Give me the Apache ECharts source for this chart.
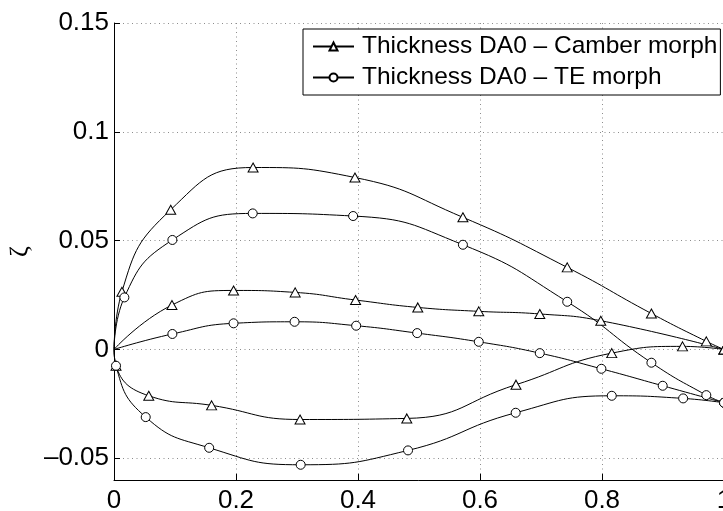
<!DOCTYPE html>
<html>
<head>
<meta charset="utf-8">
<script src="https://cdn.jsdelivr.net/npm/echarts@6/dist/echarts.min.js"></script>
<style>
  html, body { margin: 0; padding: 0; background: #fff; }
  #chart { width: 723px; height: 511px; }
</style>
</head>
<body>
<div id="chart"></div>
<script>
// values
const camberName = 'Thickness DA0 \u2013 Camber morph'
const teName = 'Thickness DA0 \u2013 TE morph'

const camberUpperX = [0, 0.013, 0.093, 0.228, 0.395, 0.572, 0.743, 0.881, 0.971, 1.0]
const camberUpperY = [0, 0.0265, 0.0642, 0.0836, 0.079, 0.0607, 0.0377, 0.0165, 0.0037, 0]
const camberMidX = [0, 0.095, 0.196, 0.297, 0.396, 0.498, 0.598, 0.698, 0.798, 1.0]
const camberMidY = [0, 0.0204, 0.0271, 0.0262, 0.0227, 0.0193, 0.0175, 0.0163, 0.0132, 0]
const camberLowerX = [0, 0.0033, 0.057, 0.16, 0.305, 0.48, 0.659, 0.816, 0.932, 1.0]
const camberLowerY = [0, -0.0075, -0.0213, -0.0257, -0.0322, -0.0317, -0.0162, -0.0017, 0.0014, 0]

const teUpperX = [0, 0.017, 0.0957, 0.2274, 0.392, 0.572, 0.743, 0.881, 0.971, 1.0]
const teUpperY = [0, 0.0239, 0.0503, 0.0625, 0.0613, 0.0481, 0.0219, -0.0061, -0.021, -0.0245]
const teMidX = [0, 0.0957, 0.196, 0.296, 0.397, 0.497, 0.598, 0.698, 0.799, 0.8995, 1.0]
const teMidY = [0, 0.0071, 0.012, 0.0127, 0.0109, 0.0075, 0.0035, -0.0017, -0.0089, -0.0167, -0.0245]
const teLowerX = [0, 0.0033, 0.052, 0.156, 0.306, 0.482, 0.6585, 0.816, 0.933, 1.0]
const teLowerY = [0, -0.0075, -0.0311, -0.0452, -0.053, -0.0464, -0.0291, -0.0213, -0.0225, -0.0245]

// leading edge point (0,0) carries no marker
const pairs = function (xs, ys) {
  return xs.map(function (x, i) {
    if (x === 0 && ys[i] === 0) return { value: [x, ys[i]], symbol: 'none' }
    return [x, ys[i]]
  })
}

const font = 'Liberation Sans, Arial, Helvetica, sans-serif'

var makeSeries = function (name, symbol, size, xs, ys) {
  return {
    name: name,
    type: 'line',
    data: pairs(xs, ys),
    smooth: 0.5,
    symbol: symbol,
    symbolSize: size,
    showAllSymbol: true,
    clip: false,
    lineStyle: { color: '#000', width: 1 },
    itemStyle: { color: '#fff', borderColor: '#000', borderWidth: 1 },
    emphasis: { disabled: true },
    z: 3
  }
}

var chtopt = {
  animation: false,
  backgroundColor: '#fff',
  grid: { left: 114, top: 23, width: 610, height: 457, outerBoundsMode: 'none', containLabel: false },
  legend: {
    data: [camberName, teName],
    orient: 'vertical',
    left: 303,
    top: 29,
    padding: [5, 3, 5, 9],
    itemGap: 6,
    itemWidth: 41,
    itemHeight: 10,
    backgroundColor: '#fff',
    borderColor: '#000',
    borderWidth: 1,
    textStyle: { fontFamily: font, fontSize: 24.5, color: '#000', padding: [0, 0, 0, 3] }
  },
  xAxis: {
    type: 'value',
    min: 0,
    max: 1,
    interval: 0.2,
    axisLine: { onZero: false, lineStyle: { color: '#000', width: 1 } },
    axisTick: { inside: true, length: 6, lineStyle: { color: '#000' } },
    axisLabel: { color: '#000', fontFamily: font, fontSize: 26, margin: 8, hideOverlap: false },
    splitLine: { show: true, lineStyle: { color: '#8c8c8c', type: [1, 3.5], width: 1 } }
  },
  yAxis: {
    type: 'value',
    min: -0.06,
    max: 0.15,
    splitNumber: 5,
    name: '\u03b6',
    nameLocation: 'middle',
    nameRotate: 90,
    nameGap: 80,
    nameTextStyle: { fontFamily: 'Liberation Serif, DejaVu Serif, serif', fontSize: 26, color: '#000' },
    axisLine: { onZero: false, lineStyle: { color: '#000', width: 1 } },
    axisTick: { inside: true, length: 6, lineStyle: { color: '#000' } },
    axisLabel: {
      color: '#000', fontFamily: font, fontSize: 26, margin: 5, showMinLabel: false,
      formatter: function (v) {
        if (Math.abs(v + 0.06) < 1e-9) return ''
        var s = String(Math.round(v * 1000) / 1000)
        return s.replace('-', '\u2013')
      }
    },
    splitLine: { show: true, lineStyle: { color: '#8c8c8c', type: [1, 3.5], width: 1 } }
  },
  series: [
    makeSeries(camberName, 'triangle', [10, 9], camberUpperX, camberUpperY),
    makeSeries(camberName, 'triangle', [10, 9], camberMidX, camberMidY),
    makeSeries(camberName, 'triangle', [10, 9], camberLowerX, camberLowerY),
    makeSeries(teName, 'circle', 9, teUpperX, teUpperY),
    makeSeries(teName, 'circle', 9, teMidX, teMidY),
    makeSeries(teName, 'circle', 9, teLowerX, teLowerY)
  ]
}

const chart = echarts.init(document.getElementById('chart'), null, { renderer: 'canvas' })
chart.setOption(chtopt)
</script>
</body>
</html>
